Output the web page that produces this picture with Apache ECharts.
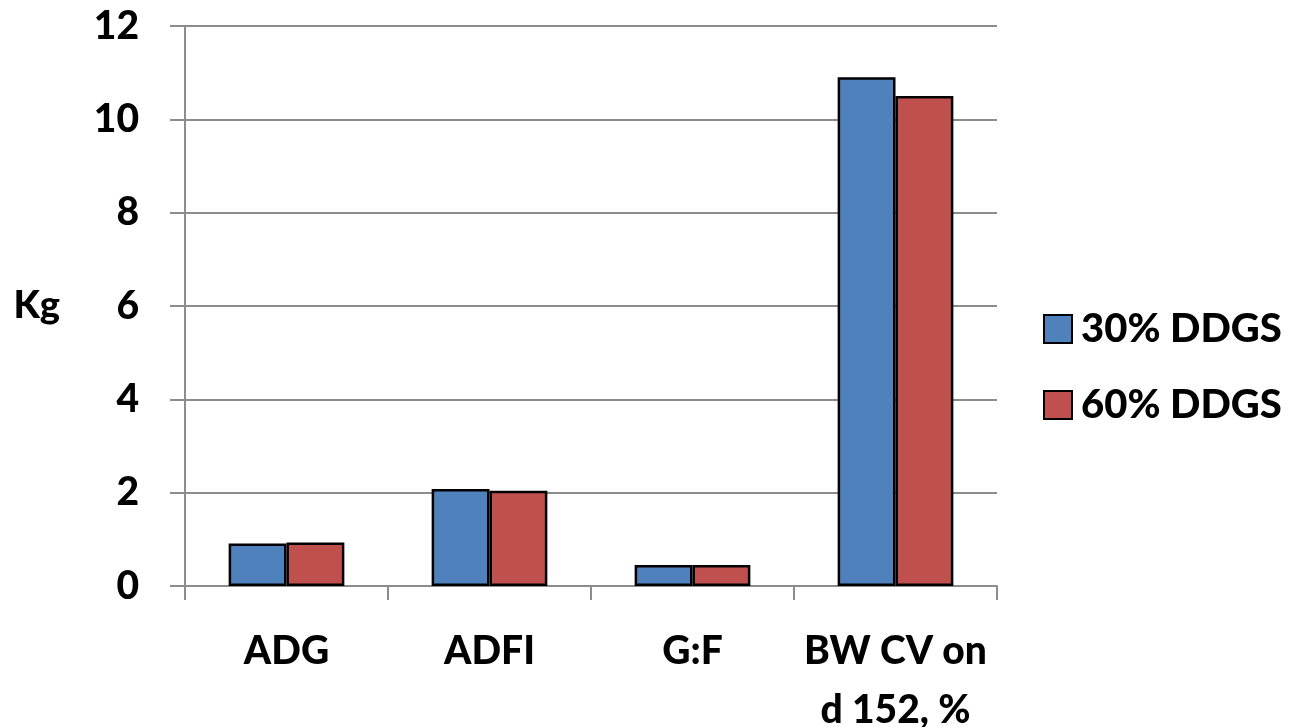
<!DOCTYPE html>
<html>
<head>
<meta charset="utf-8">
<script src="https://cdn.jsdelivr.net/npm/echarts@6/dist/echarts.min.js"></script>
<style>
  html, body { margin: 0; padding: 0; background: #fff; }
  #chart { width: 1294px; height: 727px; }
</style>
</head>
<body>
<div id="chart"></div>
<script>
// Performance measures by dietary DDGS level
const categories = ['ADG', 'ADFI', 'G:F', 'BW CV on\nd 152, %'];
const seriesNames = ['30% DDGS', '60% DDGS'];
const ddgs30 = [0.91, 2.08, 0.45, 10.9];
const ddgs60 = [0.93, 2.04, 0.45, 10.5];
const yTicks = { min: 0, max: 12, interval: 2 };

const FONT = 'Lato, "Open Sans", sans-serif';
const GRID_GRAY = '#8c8c8c';

const chart = echarts.init(document.getElementById('chart'));
chart.setOption({
  animation: false,
  backgroundColor: '#ffffff',
  grid: { left: 185, right: 297, top: 26, bottom: 141, containLabel: false, outerBoundsMode: 'none' },
  legend: {
    orient: 'vertical',
    left: 1038,
    top: 304,
    itemWidth: 28,
    itemHeight: 28,
    itemGap: 36,
    icon: 'rect',
    textStyle: { fontFamily: FONT, fontWeight: 900, fontSize: 40, color: '#000', padding: [0, 0, 0, 4] },
    data: seriesNames
  },
  xAxis: {
    type: 'category',
    data: categories,
    boundaryGap: true,
    axisLine: { show: true, lineStyle: { color: GRID_GRAY, width: 2 } },
    axisTick: { show: true, length: 14, alignWithLabel: false, lineStyle: { color: GRID_GRAY, width: 2 } },
    axisLabel: {
      interval: 0,
      margin: 36,
      fontFamily: FONT,
      fontWeight: 900,
      fontSize: 39,
      lineHeight: 59,
      color: '#000'
    }
  },
  yAxis: {
    type: 'value',
    min: yTicks.min,
    max: yTicks.max,
    interval: yTicks.interval,
    name: 'Kg',
    nameLocation: 'middle',
    nameRotate: 0,
    nameGap: 125,
    nameTextStyle: { fontFamily: FONT, fontWeight: 900, fontSize: 38, color: '#000' },
    axisLine: { show: true, lineStyle: { color: GRID_GRAY, width: 2 } },
    axisTick: { show: true, length: 15, lineStyle: { color: GRID_GRAY, width: 2 } },
    splitLine: { show: true, lineStyle: { color: GRID_GRAY, width: 2 } },
    axisLabel: {
      margin: 46,
      fontFamily: FONT,
      fontWeight: 900,
      fontSize: 39,
      color: '#000'
    }
  },
  series: [
    {
      name: seriesNames[0],
      type: 'bar',
      data: ddgs30,
      barGap: '0%',
      barCategoryGap: '43%',
      itemStyle: { color: '#4F81BD', borderColor: '#000', borderWidth: 2.5 }
    },
    {
      name: seriesNames[1],
      type: 'bar',
      data: ddgs60,
      barGap: '0%',
      barCategoryGap: '43%',
      itemStyle: { color: '#C0504D', borderColor: '#000', borderWidth: 2.5 }
    }
  ]
});
</script>
</body>
</html>
